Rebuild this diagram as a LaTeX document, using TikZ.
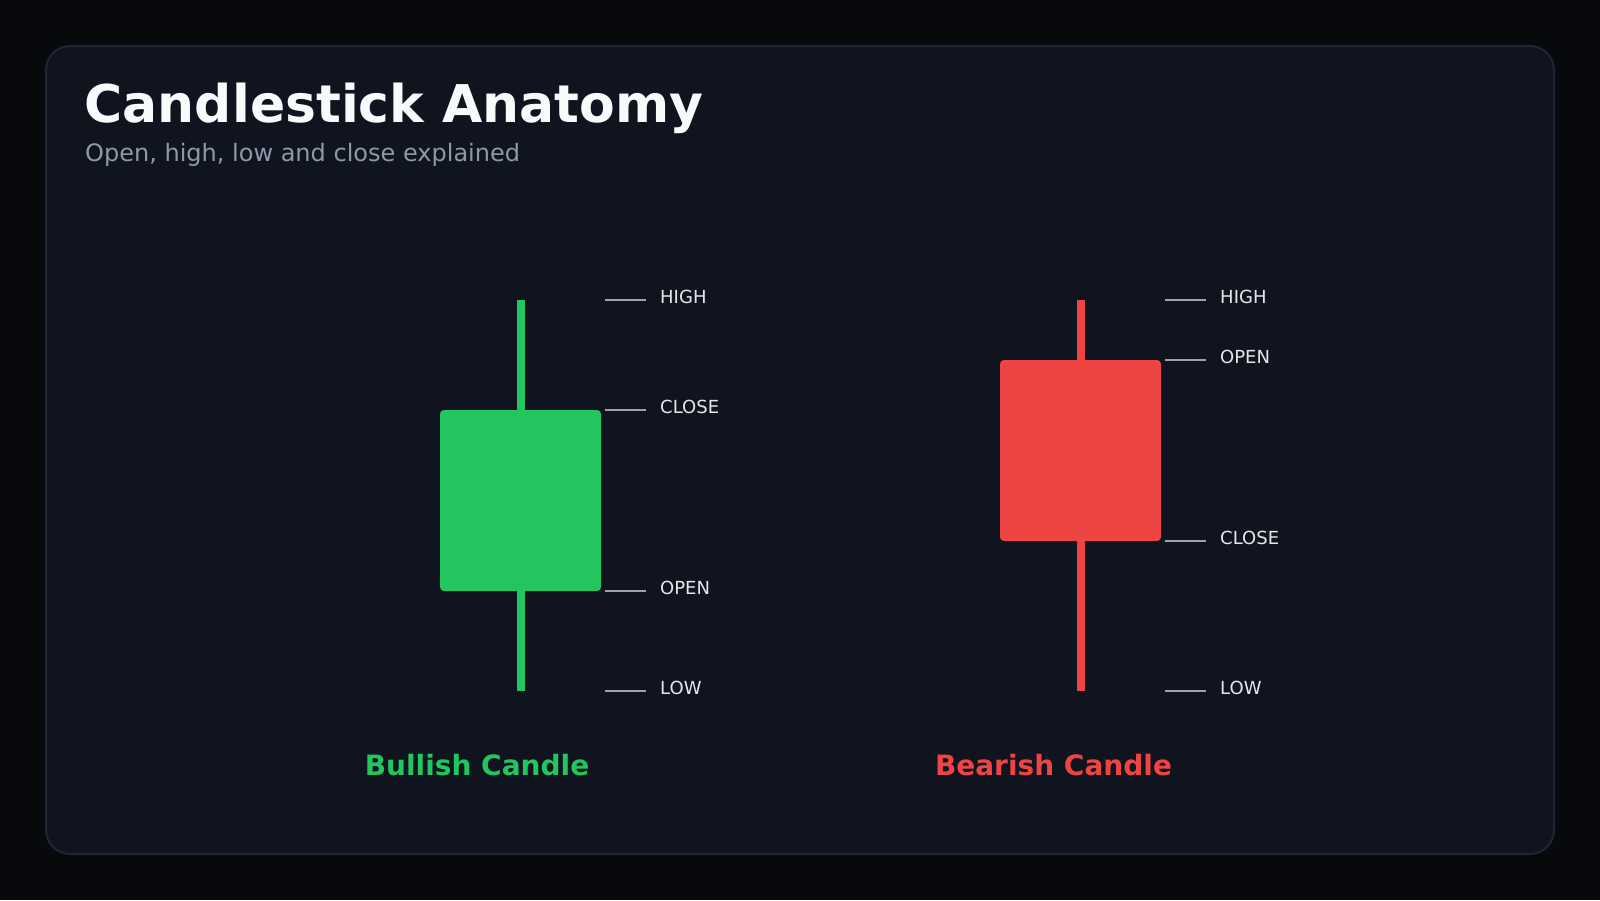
\documentclass[tikz,border=0pt]{standalone}
\usepackage{fontspec}
\setmainfont{DejaVu Sans}
\usetikzlibrary{positioning}
\usetikzlibrary{calc}

\definecolor{pagebg}{HTML}{07090D}
\definecolor{panelbg}{HTML}{10141F}
\definecolor{panelline}{HTML}{1E2535}
\definecolor{titlefg}{HTML}{F8FAFC}
\definecolor{subfg}{HTML}{8E98A8}
\definecolor{tickgray}{HTML}{9CA3AF}
\definecolor{labelfg}{HTML}{E5E7EB}
\definecolor{bullgreen}{HTML}{22C55E}
\definecolor{bearred}{HTML}{EF4444}

\tikzset{
	candlebody/.style={fill=#1, rounded corners=4pt, minimum width=161pt, minimum height=181pt, inner sep=0pt},
	wick/.style={draw=#1, line width=8pt},
	tickline/.style={draw=tickgray, line width=1.6pt},
	ohlc/.style={font=\fontsize{18}{21}\selectfont, text=labelfg, inner sep=0pt},
	candlename/.style={font=\bfseries\fontsize{28}{32}\selectfont, text=#1, inner sep=0pt, anchor=base}
}

\begin{document}
\begin{tikzpicture}[x=1pt,y=-1pt]%[every node/.style={draw}]
\fill[pagebg] (0,0) rectangle (1600,900);
\draw[panelline, fill=panelbg, line width=2pt, rounded corners=24pt] (46,46) rectangle (1554,854);

\node[anchor=base west, inner sep=0pt, text=titlefg, font=\bfseries\fontsize{52}{60}\selectfont] (Title) at (84.5,122) {Candlestick Anatomy};
\node[anchor=base west, inner sep=0pt, text=subfg, font=\fontsize{24}{28}\selectfont] (Subtitle) at ($(Title.base west)+(0.5,39.7)$) {Open, high, low and close explained};

% bullish candle
\coordinate (BullTop) at (521,300);
\coordinate (BullBottom) at (521,691);
\draw[wick=bullgreen] (BullTop) -- (BullBottom);
\node[candlebody=bullgreen] (BullBody) at (520.5,500.5) {};
\foreach \y/\name/\txt in {300/High/HIGH, 410/Close/CLOSE, 591/Open/OPEN, 691/Low/LOW}{
	\coordinate (Bull\name A) at (605,\y);
	\coordinate (Bull\name B) at (646,\y);
	\draw[tickline] (Bull\name A) -- (Bull\name B);
	\node[ohlc, base right=14pt of Bull\name B, yshift=-3.4pt] (Bull\name Txt) {\txt};
}
\node[candlename=bullgreen] (BullName) at (477,775.5) {Bullish Candle};

% bearish candle
\coordinate (BearTop) at (1081,300);
\coordinate (BearBottom) at (1081,691);
\draw[wick=bearred] (BearTop) -- (BearBottom);
\node[candlebody=bearred] (BearBody) at (1080.5,450.5) {};
\foreach \y/\name/\txt in {300/High/HIGH, 360/Open/OPEN, 541/Close/CLOSE, 691/Low/LOW}{
	\coordinate (Bear\name A) at (1165,\y);
	\coordinate (Bear\name B) at (1206,\y);
	\draw[tickline] (Bear\name A) -- (Bear\name B);
	\node[ohlc, base right=14pt of Bear\name B, yshift=-3.4pt] (Bear\name Txt) {\txt};
}
\node[candlename=bearred] (BearName) at (1053.5,775.5) {Bearish Candle};

\end{tikzpicture}
\end{document}
